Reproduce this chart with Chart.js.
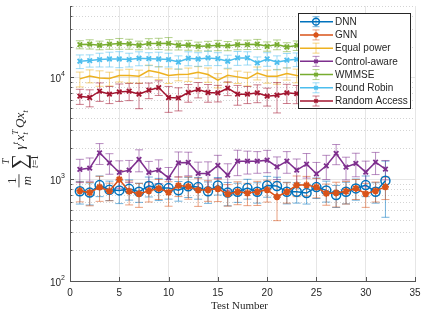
<!DOCTYPE html>
<html>
<head>
<meta charset="utf-8">
<script src="https://cdn.jsdelivr.net/npm/chart.js@4/dist/chart.umd.min.js"></script>
<style>
html,body{margin:0;padding:0;background:#fff;}
#wrap{width:421px;height:316px;}
</style>
</head>
<body>
<div id="wrap"><canvas id="c" width="421" height="316"></canvas></div>
<script>
// ---------------- data ----------------
const testNumbers = [1,2,3,4,5,6,7,8,9,10,11,12,13,14,15,16,17,18,19,20,21,22,23,24,25,26,27,28,29,30,31,32];
const seriesNames = ['DNN','GNN','Equal power','Control-aware','WMMSE','Round Robin','Random Access'];

const dnnValues = [759,737,873,785,775,802,751,858,816,816,777,850,835,758,867,737,751,816,751,864,854,751,751,729,835,775,697,751,811,873,751,962];
const dnnErrors = [190,180,200,170,200,180,160,190,200,180,170,190,200,180,170,190,160,180,170,200,190,180,170,160,190,180,170,180,190,200,170,540];

const gnnValues = [768,737,835,763,993,758,718,766,811,742,864,845,780,785,802,713,751,729,751,785,671,751,873,873,835,724,732,759,811,718,766,840];
const gnnErrors = [170,190,230,150,220,200,190,170,180,200,190,210,240,180,200,170,190,180,200,190,280,170,200,190,180,170,200,190,180,190,170,210];

const equalPowerValues = [9630,10300,9850,9700,10380,10380,10230,11630,11110,10380,10620,10700,11200,10620,9350,10460,10080,9700,11000,10230,10230,10870,10400,10200,10600,10300,10100,10500,10200,10400,10300,10500];
const equalPowerErrors = [1600,1500,1700,1500,1400,1600,1500,1500,1600,1700,1400,1600,1500,1700,1500,1600,1400,1500,1600,1500,1700,1500,1600,1500,1600,1500,1400,1600,1500,1600,1500,1600];

const controlAwareValues = [1244,1282,1812,1446,1162,1225,1559,1162,1225,1030,1446,1457,1137,1137,1361,1094,1501,1501,1501,1535,1321,1501,1225,1403,1128,1351,1785,1311,1424,1171,1468,1253];
const controlAwareErrors = [320,330,420,330,350,300,380,330,320,270,400,380,330,340,350,320,420,380,360,380,330,360,350,380,330,360,400,330,370,330,360,270];

const wmmseValues = [20900,21100,20600,21100,21400,21200,20600,21400,21400,21500,20600,20700,20100,20300,20600,20300,20900,20900,21100,20100,20900,19800,20500,20800,20400,21000,20600,20700,20300,20900,20500,20800];
const wmmseErrors = [1900,2200,2000,2300,2600,2400,2000,2500,2700,3000,2100,2300,2000,2200,2400,2100,2300,2200,2400,2100,2300,2000,2200,2300,2100,2400,2200,2300,2100,2400,2200,2300];

const roundRobinValues = [14350,14570,14900,15100,15100,14900,15350,15200,15100,14900,14100,15350,15100,15470,15200,14350,15470,15470,13800,15100,14000,14700,15000,14600,15200,14800,15100,14900,14500,15000,14800,15100];
const roundRobinErrors = [2200,2000,2300,2500,2700,2300,2400,2200,2500,2300,2100,2400,2300,2500,2200,2100,2400,2300,2000,2300,2200,2400,2300,2200,2400,2300,2200,2400,2300,2200,2300,2400];

const randomAccessValues = [6510,6320,7290,6810,7180,7290,6810,7460,7920,6320,6270,7080,7570,7080,7020,7800,6810,6810,7020,6510,6660,7020,6900,7100,6800,7000,6700,7200,6900,7000,6800,7100];
const randomAccessErrors = [1100,1200,1500,1300,1400,1400,1900,1300,1300,1800,1600,1400,1300,1400,1300,1200,1500,1300,1400,1300,2200,1500,1400,1300,1400,1300,1500,1400,1300,1400,1300,1400];

const xTickValues = [0,5,10,15,20,25,30,35];
const yMajorTicks = [100,1000,10000];

// ---------------- styling ----------------
const RGB = {
  blue:[0,114,189], orange:[217,83,25], yellow:[237,177,32], purple:[126,47,142],
  green:[119,172,48], cyan:[77,190,238], red:[162,20,47]
};
const rgba = (c,a)=>`rgba(${c[0]},${c[1]},${c[2]},${a})`;
const SANS = '"Liberation Sans", Arial, Helvetica, sans-serif';
const SERIF = '"Liberation Serif", "DejaVu Serif", "Times New Roman", serif';
const TXT = '#262626';

function mk(label, values, errors, col, style, radius, bw, fill){
  return {
    label,
    data: testNumbers.map((t,i)=>({x:t, y:values[i]})),
    errorBars: errors,
    borderColor: rgba(col,1),
    errColor: rgba(col,0.55),
    backgroundColor: rgba(col,1),
    borderWidth: 1.5,
    pointStyle: style,
    pointRadius: radius,
    pointBorderWidth: bw,
    pointBorderColor: rgba(col,1),
    pointBackgroundColor: fill ? rgba(col,1) : 'rgba(0,0,0,0)',
    tension: 0,
    fill: false
  };
}

const datasets = [
  mk(seriesNames[0], dnnValues, dnnErrors, RGB.blue, 'circle', 4.5, 1.5, false),
  mk(seriesNames[1], gnnValues, gnnErrors, RGB.orange, 'star', 3.5, 1.8, true),
  mk(seriesNames[2], equalPowerValues, equalPowerErrors, RGB.yellow, 'circle', 0, 0, false),
  mk(seriesNames[3], controlAwareValues, controlAwareErrors, RGB.purple, 'crossRot', 3.2, 1.8, false),
  mk(seriesNames[4], wmmseValues, wmmseErrors, RGB.green, 'crossRot', 3.2, 1.8, false),
  mk(seriesNames[5], roundRobinValues, roundRobinErrors, RGB.cyan, 'crossRot', 3.2, 1.8, false),
  mk(seriesNames[6], randomAccessValues, randomAccessErrors, RGB.red, 'crossRot', 3.2, 1.8, false)
];
// later series drawn on top (MATLAB order)
datasets.forEach((d,i)=>{ d.order = datasets.length - i; });

function isPow10(v){ const l = Math.log10(v); return Math.abs(l - Math.round(l)) < 1e-9; }

// ---------------- custom drawing plugin ----------------
const decor = {
  id: 'decor',
  beforeDatasetsDraw(chart){
    const {ctx, chartArea:a, scales:{x, y}} = chart;
    ctx.save();
    // minor dotted grid lines
    ctx.strokeStyle = '#d4d4d4';
    ctx.lineWidth = 1;
    ctx.setLineDash([1,2]);
    yMajorTicks.forEach(dec=>{
      for(let m=2;m<=9;m++){
        const v = m*dec;
        if(v > y.max) break;
        const py = Math.round(y.getPixelForValue(v)) + 0.5;
        ctx.beginPath(); ctx.moveTo(a.left, py); ctx.lineTo(a.right, py); ctx.stroke();
      }
    });
    ctx.setLineDash([]);
    // error bars
    ctx.beginPath(); ctx.rect(a.left, a.top, a.right - a.left, a.bottom - a.top); ctx.clip();
    chart.data.datasets.forEach(ds=>{
      ctx.strokeStyle = ds.errColor;
      ctx.lineWidth = 1;
      ds.data.forEach((p,j)=>{
        const e = ds.errorBars[j];
        const px = x.getPixelForValue(p.x);
        const yt = y.getPixelForValue(p.y + e);
        const yb = y.getPixelForValue(Math.max(p.y - e, 1));
        const cw = 4;
        ctx.beginPath();
        ctx.moveTo(px, yt); ctx.lineTo(px, yb);
        ctx.moveTo(px - cw, yt); ctx.lineTo(px + cw, yt);
        ctx.moveTo(px - cw, yb); ctx.lineTo(px + cw, yb);
        ctx.stroke();
      });
    });
    ctx.restore();
  },
  afterDraw(chart){
    const {ctx, chartArea:a, scales:{x, y}} = chart;
    ctx.save();
    // inward tick marks
    ctx.strokeStyle = '#555';
    ctx.lineWidth = 1;
    ctx.beginPath();
    yMajorTicks.forEach(dec=>{
      for(let m=1;m<=9;m++){
        const v = m*dec;
        if(v > y.max) break;
        const py = Math.round(y.getPixelForValue(v)) + 0.5;
        const len = (m===1) ? 4 : 2.5;
        ctx.moveTo(a.left, py); ctx.lineTo(a.left + len, py);
      }
    });
    xTickValues.forEach(v=>{
      const px = Math.round(x.getPixelForValue(v)) + 0.5;
      ctx.moveTo(px, a.bottom); ctx.lineTo(px, a.bottom - 4);
    });
    ctx.stroke();

    // y tick labels 10^n
    ctx.fillStyle = TXT;
    yMajorTicks.forEach(v=>{
      const py = y.getPixelForValue(v);
      const ex = String(Math.round(Math.log10(v)));
      ctx.font = `7px ${SANS}`;
      const ew = ctx.measureText(ex).width;
      ctx.textAlign = 'left';
      ctx.textBaseline = 'alphabetic';
      const right = a.left - 5;
      ctx.fillText(ex, right - ew, py - 1);
      ctx.font = `10px ${SANS}`;
      ctx.textAlign = 'right';
      ctx.fillText('10', right - ew, py + 4.5);
    });

    // x title
    ctx.font = `11px ${SERIF}`;
    ctx.textAlign = 'center';
    ctx.textBaseline = 'middle';
    ctx.fillText('Test Number', (a.left + a.right)/2 - 3, 306);

    // y title (math)
    drawYTitle(ctx);

    // legend
    drawLegend(ctx, chart);
    ctx.restore();
  }
};

function drawYTitle(ctx){
  ctx.save();
  ctx.translate(20, 188);
  ctx.rotate(-Math.PI/2);
  ctx.scale(1.2, 1.2);
  ctx.fillStyle = TXT;
  ctx.textBaseline = 'alphabetic';
  ctx.textAlign = 'center';
  // fraction 1/m
  ctx.font = `11px ${SERIF}`;
  ctx.fillText('1', 6, -3);
  ctx.font = `italic 11px ${SERIF}`;
  ctx.fillText('m', 6, 9);
  ctx.fillRect(0.5, -1.2, 11, 0.7);
  // sum
  ctx.font = `18px ${SERIF}`;
  ctx.fillText('\u2211', 22, 5);
  ctx.font = `italic 8px ${SERIF}`;
  ctx.fillText('T', 22, -9);
  ctx.textAlign = 'left';
  ctx.font = `italic 8px ${SERIF}`;
  const wt = ctx.measureText('t').width;
  ctx.font = `8px ${SERIF}`;
  const weq = ctx.measureText('=1').width;
  const sx = 22 - (wt + weq)/2;
  ctx.font = `italic 8px ${SERIF}`;
  ctx.fillText('t', sx, 15);
  ctx.font = `8px ${SERIF}`;
  ctx.fillText('=1', sx + wt, 15);
  // body: gamma^t x_t^T Q x_t
  let cx = 32;
  const base = 3.5;
  const big = `italic 11px ${SERIF}`;
  const small = `italic 7.5px ${SERIF}`;
  function put(t, f, dy){ ctx.font = f; ctx.fillText(t, cx, base + dy); return ctx.measureText(t).width; }
  cx += put('\u03B3', big, 0);
  cx += put('t', small, -5.5) + 1;
  cx += put('x', big, 0);
  const w1 = put('T', small, -5.5);
  const w2 = put('t', small, 3);
  cx += Math.max(w1, w2) + 1.5;
  cx += put('Q', big, 0);
  cx += put('x', big, 0);
  cx += put('t', small, 3);
  ctx.restore();
}

function drawLegend(ctx, chart){
  const x0 = 298.5, y0 = 13.5, x1 = 410.5, y1 = 108.5;
  ctx.save();
  ctx.fillStyle = '#ffffff';
  ctx.fillRect(x0, y0, x1 - x0, y1 - y0);
  ctx.strokeStyle = '#262626';
  ctx.lineWidth = 1;
  ctx.strokeRect(x0, y0, x1 - x0, y1 - y0);
  chart.data.datasets.forEach((ds,k)=>{
    const yy = 21.7 + k*13.22;
    const xc = 316;
    ctx.strokeStyle = ds.borderColor;
    ctx.lineWidth = 1.5;
    ctx.beginPath(); ctx.moveTo(300, yy); ctx.lineTo(333, yy); ctx.stroke();
    ctx.strokeStyle = ds.errColor;
    ctx.lineWidth = 1;
    ctx.beginPath();
    ctx.moveTo(xc, yy - 5); ctx.lineTo(xc, yy + 5);
    ctx.moveTo(xc - 3.5, yy - 5); ctx.lineTo(xc + 3.5, yy - 5);
    ctx.moveTo(xc - 3.5, yy + 5); ctx.lineTo(xc + 3.5, yy + 5);
    ctx.stroke();
    if(ds.pointRadius > 0){
      ctx.strokeStyle = ds.pointBorderColor;
      ctx.fillStyle = ds.pointBackgroundColor;
      ctx.lineWidth = ds.pointBorderWidth;
      Chart.helpers.drawPoint(ctx, {pointStyle: ds.pointStyle, radius: ds.pointRadius*0.75, rotation: 0, borderWidth: ds.pointBorderWidth}, xc, yy);
    }
    ctx.fillStyle = TXT;
    ctx.font = `10px ${SANS}`;
    ctx.textAlign = 'left';
    ctx.textBaseline = 'middle';
    ctx.fillText(ds.label, 335, yy + 0.5);
  });
  ctx.restore();
}

// ---------------- chart ----------------
new Chart(document.getElementById('c'), {
  type: 'line',
  data: { datasets },
  options: {
    responsive: false,
    animation: false,
    devicePixelRatio: 1,
    layout: { padding: { left: 0, right: 3, top: 5, bottom: 0 } },
    plugins: { legend: { display: false }, tooltip: { enabled: false } },
    scales: {
      x: {
        type: 'linear', min: 0, max: 35,
        ticks: { stepSize: 5, color: TXT, font: { family: SANS, size: 10 }, padding: 6, maxRotation: 0, autoSkip: false },
        grid: { drawTicks: false, lineWidth: 1, color: c => (c.tick && c.tick.value === 0) ? 'rgba(0,0,0,0)' : '#e6e6e6' },
        border: { color: '#555', width: 1 },
        afterFit: s => { s.height = 35; s.paddingLeft = 0; s.paddingRight = 0; }
      },
      y: {
        type: 'logarithmic', min: 100, max: 50000,
        ticks: { display: false },
        grid: { drawTicks: false, lineWidth: 1, color: c => (c.tick && isPow10(c.tick.value) && c.tick.value > 100) ? '#e6e6e6' : 'rgba(0,0,0,0)' },
        border: { color: '#555', width: 1 },
        afterFit: s => { s.width = 70; s.paddingTop = 0; s.paddingBottom = 0; }
      }
    }
  },
  plugins: [decor]
});
</script>
</body>
</html>
